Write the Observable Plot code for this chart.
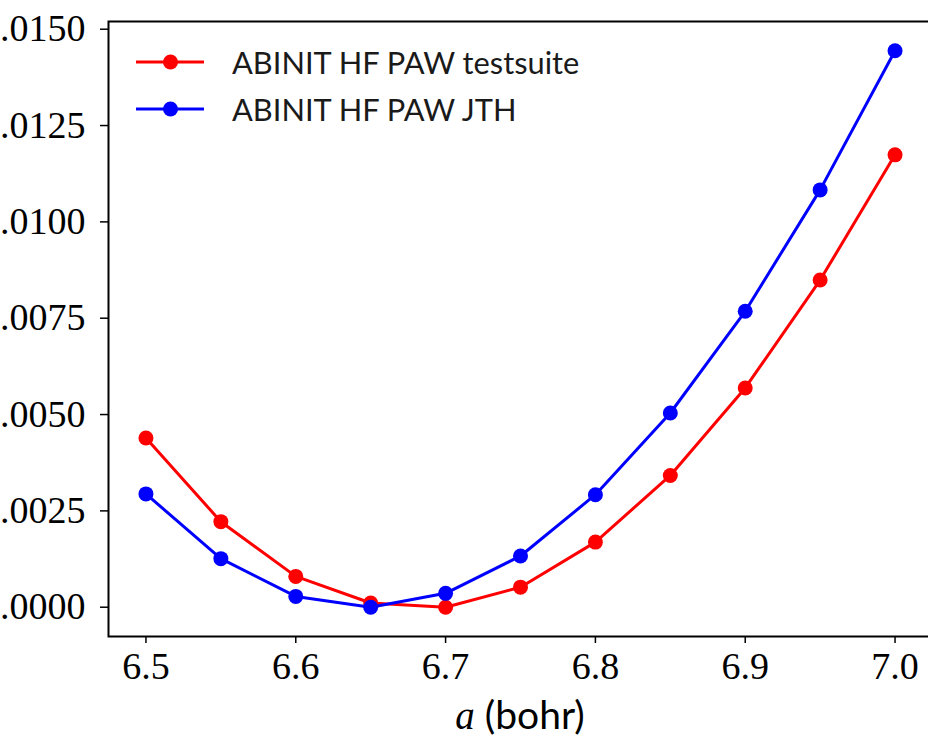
<!DOCTYPE html>
<html>
<head>
<meta charset="utf-8">
<script src="https://cdn.jsdelivr.net/npm/d3@7"></script>
<script src="https://cdn.jsdelivr.net/npm/@observablehq/plot@0.6"></script>
<style>
  html, body { margin: 0; padding: 0; background: #fff; }
  #wrap { position: relative; width: 928px; height: 740px; overflow: hidden; background: #fff; }
  #legend { position: absolute; left: 0; top: 0; }
  .ltext { position: absolute; font-family: Lato, "Open Sans", sans-serif; font-size: 30.8px; line-height: 36px; color: #1a1a1a; white-space: nowrap; }
  #xlabel { position: absolute; left: 0; width: 1040px; top: 692px; text-align: center;
            font-family: Lato, "Open Sans", sans-serif; font-size: 39px; line-height: 44px; color: #000; white-space: nowrap; }
  #xlabel .math { font-family: "Liberation Serif", serif; font-style: italic; }
</style>
</head>
<body>
<div id="wrap">
  <div id="chart"></div>
  <div id="legend"></div>
  <div id="xlabel"><span class="math">a</span> (bohr)</div>
</div>
<script>
// ---- data ----
const aValues = [6.50, 6.55, 6.60, 6.65, 6.70, 6.75, 6.80, 6.85, 6.90, 6.95, 7.00];
const testsuite = [0.00439, 0.00222, 0.00080, 0.00011, 0.00000, 0.00052, 0.00169, 0.00342, 0.00569, 0.00849, 0.01174];
const jth       = [0.00294, 0.00126, 0.00028, 0.00000, 0.00036, 0.00133, 0.00292, 0.00504, 0.00768, 0.01083, 0.01444];
const seriesNames = ["ABINIT HF PAW testsuite", "ABINIT HF PAW JTH"];
const seriesColors = ["#ff0000", "#0000ff"];
const xTicks = [6.5, 6.6, 6.7, 6.8, 6.9, 7.0];
const yTicks = [0, 0.0025, 0.0050, 0.0075, 0.0100, 0.0125, 0.0150];

// ---- table ----
const seriesValues = [testsuite, jth];
const rows = [];
seriesValues.forEach((vals, s) => {
  aValues.forEach((a, i) => rows.push({ a, E: vals[i], series: seriesNames[s] }));
});

const seriesMarks = [];
seriesNames.forEach((name, s) => {
  const sub = rows.filter(d => d.series === name);
  seriesMarks.push(Plot.line(sub, { x: "a", y: "E", stroke: seriesColors[s], strokeWidth: 3 }));
  seriesMarks.push(Plot.dot(sub, { x: "a", y: "E", fill: seriesColors[s], r: 7.5 }));
});

const chart = Plot.plot({
  width: 928,
  height: 696,
  marginLeft: 108,
  marginRight: -4,
  marginTop: 21,
  marginBottom: 60,
  style: { background: "white", color: "black", fontFamily: "'Liberation Serif', serif", fontSize: "38px" },
  x: { domain: [6.475, 7.025] },
  y: { domain: [-0.00076, 0.0152] },
  marks: [
    Plot.axisX({ ticks: xTicks, tickFormat: d3.format(".1f"), tickSize: 7, tickPadding: 9, label: null, strokeWidth: 1.5 }),
    Plot.axisY({ ticks: yTicks, tickFormat: d3.format(".4f"), tickSize: 8, tickPadding: 15, label: null, strokeWidth: 1.5 }),
    ...seriesMarks,
    Plot.frame({ stroke: "black", strokeWidth: 2 })
  ]
});
document.getElementById("chart").appendChild(chart);

// ---- legend (HTML overlay, matplotlib-style upper left) ----
const legend = document.getElementById("legend");
seriesNames.forEach((name, s) => {
  const top = 52 + s * 47;
  const sw = document.createElementNS("http://www.w3.org/2000/svg", "svg");
  sw.setAttribute("width", 70); sw.setAttribute("height", 20);
  sw.style.position = "absolute"; sw.style.left = "135px"; sw.style.top = top + "px";
  sw.innerHTML = `<line x1="1" x2="69" y1="10" y2="10" stroke="${seriesColors[s]}" stroke-width="3"/>` +
                 `<circle cx="35.5" cy="10" r="7.5" fill="${seriesColors[s]}"/>`;
  legend.appendChild(sw);
  const t = document.createElement("div");
  t.className = "ltext";
  t.style.left = "232px";
  t.style.top = (top - 6.8) + "px";
  t.textContent = name;
  legend.appendChild(t);
});
</script>
</body>
</html>
